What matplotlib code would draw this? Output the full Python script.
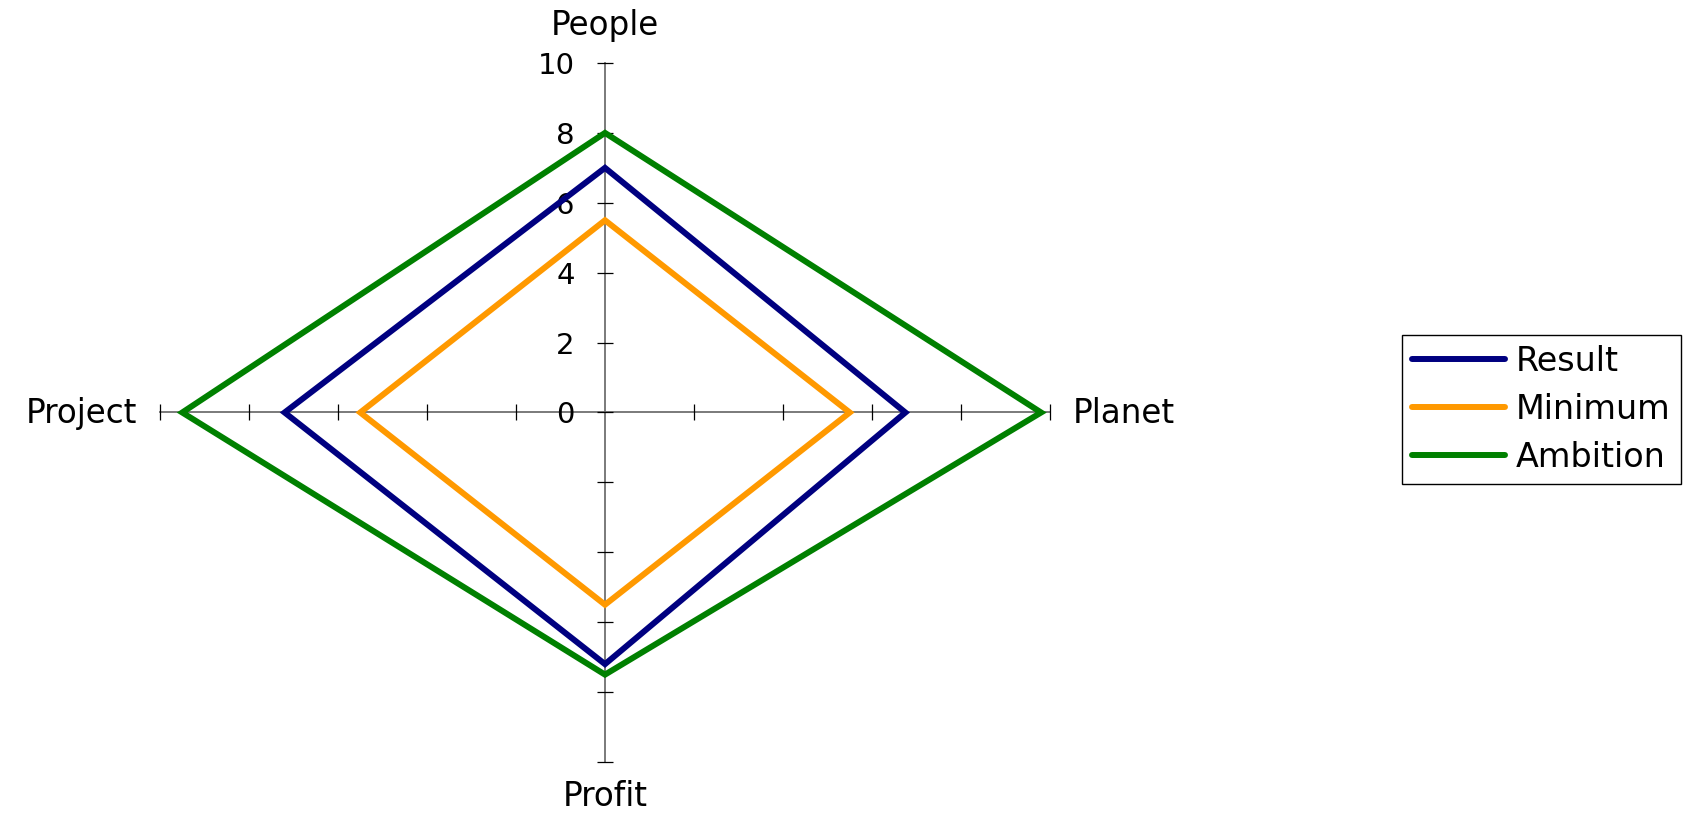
import numpy as np
import matplotlib as mpl
mpl.use('Agg')
import matplotlib.pyplot as plt
from matplotlib.patches import Polygon
from matplotlib.lines import Line2D

categories = ['People', 'Planet', 'Profit', 'Project']
series_names = ['Result', 'Minimum', 'Ambition']
result = [7.0, 6.75, 7.2, 7.2]
minimum = [5.5, 5.5, 5.5, 5.5]
ambition = [8.0, 9.8, 7.5, 9.5]
scale_ticks = [0, 2, 4, 6, 8, 10]

colors = ['#000080', '#ff9900', '#008000']
font = 'DejaVu Sans'

mpl.rcParams['font.family'] = font

fig = plt.figure(figsize=(16.86, 8.13), dpi=100)
ax = fig.add_axes([0.0949, 0.06273, 0.52788, 0.85978])
ax.set_xlim(-10, 10)
ax.set_ylim(-10, 10)

# axes through the centre, Excel style
for s in ['top', 'right']:
    ax.spines[s].set_visible(False)
for s in ['left', 'bottom']:
    ax.spines[s].set_position(('data', 0))
    ax.spines[s].set_color('#707070')
    ax.spines[s].set_linewidth(1.3)
    ax.spines[s].set_zorder(1)

ax.set_yticks([-t for t in scale_ticks[:0:-1]] + scale_ticks)
ax.set_yticklabels([''] * (len(scale_ticks) - 1) + [str(t) for t in scale_ticks])
ax.set_xticks([-t for t in scale_ticks[:0:-1]] + scale_ticks[1:])
ax.set_xticklabels([])
ax.tick_params(direction='inout', length=11.5, width=0.9, color='black',
               labelsize=21, pad=16)
ax.tick_params(axis='x', labelbottom=False)

# angles: People up, then clockwise
angles = np.deg2rad([0, 90, 180, 270])
for name, vals, c, z in zip(series_names, [result, minimum, ambition], colors, [3, 4, 5]):
    v = np.array(vals)
    xy = np.column_stack([v * np.sin(angles), v * np.cos(angles)])
    ax.add_patch(Polygon(xy, closed=True, fill=False, edgecolor=c, lw=4.3,
                         joinstyle='miter', zorder=z, clip_on=False))

# category labels at the axis ends
ends = np.column_stack([10 * np.sin(angles), 10 * np.cos(angles)])
offsets = [(0, 20), (16.5, -7.3), (0, -32), (-16.8, -7.3)]
aligns = ['center', 'left', 'center', 'right']
for cat, end, off, ha in zip(categories, ends, offsets, aligns):
    ax.annotate(cat, xy=end, xytext=off, textcoords='offset points',
                ha=ha, va='baseline', fontsize=23.5, annotation_clip=False)

handles = [Line2D([], [], color=c, lw=4.3, solid_capstyle='round') for c in colors]
fig.legend(handles, series_names, loc='upper left',
           bbox_to_anchor=(1402 / 1686, 1 - 335 / 813), borderaxespad=0,
           fontsize=24, frameon=True, fancybox=False, edgecolor='black',
           framealpha=1, handlelength=2.8, handletextpad=0.32,
           labelspacing=0.45, borderpad=0.3)

fig.savefig('out.png', dpi=100)
